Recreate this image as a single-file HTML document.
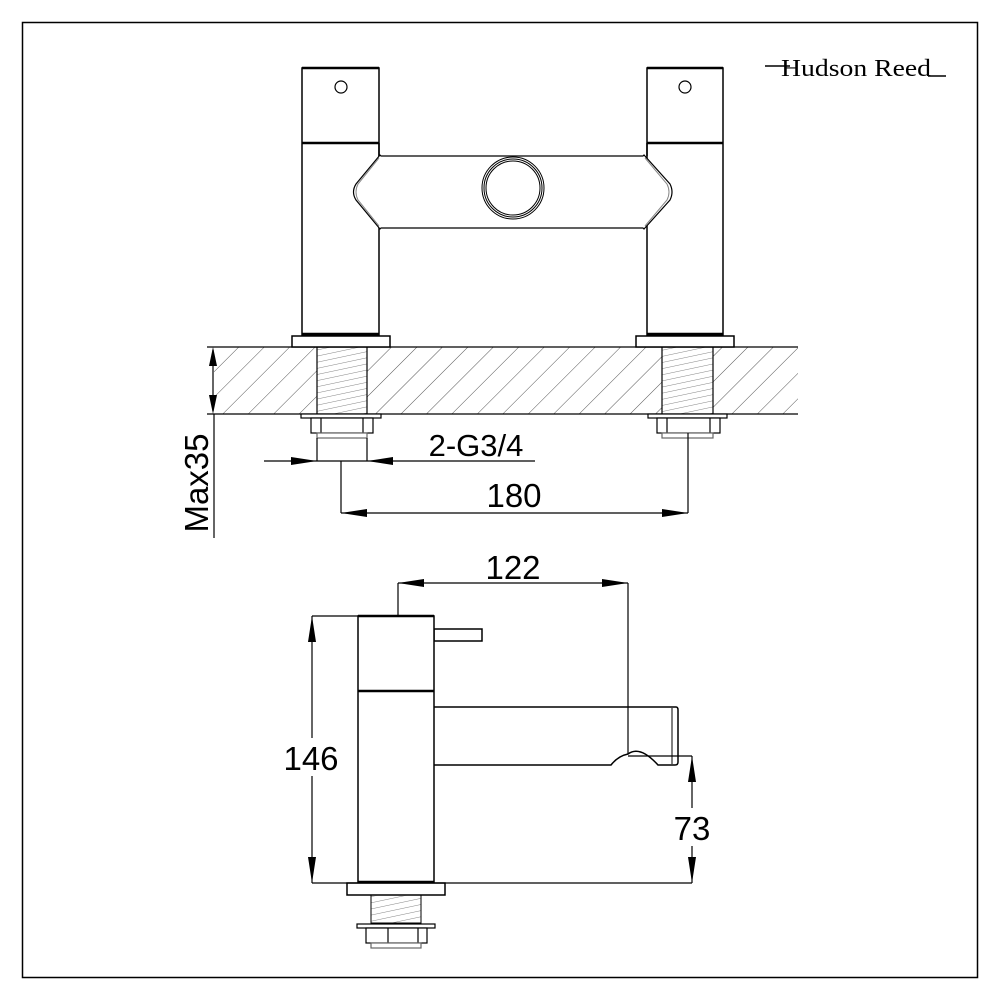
<!DOCTYPE html>
<html><head><meta charset="utf-8"><style>
html,body{margin:0;padding:0;background:#fff;}
svg{display:block;}
text{font-family:"Liberation Sans",Arial,sans-serif;fill:#000;}
</style></head><body>
<svg width="1000" height="1000" viewBox="0 0 1000 1000" xmlns="http://www.w3.org/2000/svg">
<defs>
<pattern id="hatch" patternUnits="userSpaceOnUse" width="18" height="18" patternTransform="rotate(45)">
<line x1="0" y1="0" x2="0" y2="18" stroke="#555" stroke-width="1"/>
</pattern>
<pattern id="thr" patternUnits="userSpaceOnUse" width="8" height="6" patternTransform="rotate(-12)">
<line x1="0" y1="0" x2="8" y2="0" stroke="#666" stroke-width="0.8"/>
</pattern>
<clipPath id="deck"><rect x="214" y="347" width="584" height="67"/></clipPath>
</defs>
<rect x="0" y="0" width="1000" height="1000" fill="#fff"/>
<rect x="22.5" y="22.5" width="955" height="955" fill="none" stroke="#000" stroke-width="1.5"/>

<!-- logo -->
<text x="781" y="76" font-size="24" style="font-family:'Liberation Serif',serif" textLength="150" lengthAdjust="spacingAndGlyphs">Hudson Reed</text>
<line x1="765" y1="66" x2="790" y2="66" stroke="#000" stroke-width="1.4"/>
<line x1="928" y1="76" x2="946" y2="76" stroke="#000" stroke-width="1.4"/>

<!-- deck hatching -->
<g clip-path="url(#deck)"><rect x="214" y="347" width="584" height="67" fill="url(#hatch)"/></g>
<rect x="317" y="347" width="50" height="67" fill="#fff"/>
<rect x="662" y="347" width="51" height="67" fill="#fff"/>
<rect x="317" y="347" width="50" height="67" fill="url(#thr)"/>
<rect x="662" y="347" width="51" height="67" fill="url(#thr)"/>
<g stroke="#000" stroke-width="1.2" fill="none">
<line x1="207" y1="347" x2="798" y2="347"/>
<line x1="207" y1="414" x2="798" y2="414"/>
<line x1="317" y1="347" x2="317" y2="414"/>
<line x1="367" y1="347" x2="367" y2="414"/>
<line x1="662" y1="347" x2="662" y2="414"/>
<line x1="713" y1="347" x2="713" y2="414"/>
</g>

<!-- front view taps -->
<g stroke="#000" stroke-width="1.5" fill="#fff">
<rect x="302" y="68" width="77" height="267"/>
<rect x="647" y="68" width="76" height="267"/>
<rect x="292" y="336" width="98" height="11"/>
<rect x="636" y="336" width="98" height="11"/>
</g>
<g stroke="#000" stroke-width="2.5">
<line x1="302" y1="68" x2="379" y2="68"/><line x1="647" y1="68" x2="723" y2="68"/>
<line x1="302" y1="143" x2="379" y2="143"/><line x1="647" y1="143" x2="723" y2="143"/>
<line x1="302" y1="334" x2="379" y2="334"/><line x1="647" y1="334" x2="723" y2="334"/>
</g>
<circle cx="341" cy="87" r="6" fill="none" stroke="#000" stroke-width="1.2"/>
<circle cx="685" cy="87" r="6" fill="none" stroke="#000" stroke-width="1.2"/>
<!-- bridge -->
<path d="M381 156 L643 156 L644 155 L670 184 Q674 192 670 200 L644 229 L643 228 L381 228 L380 229 L356 200 Q351 192 356 184 L380 155 Z" fill="#fff" stroke="#000" stroke-width="1.2"/>
<path d="M379 158 L358 184 Q354 192 358 200 L379 226" fill="none" stroke="#888" stroke-width="1"/>
<path d="M645 158 L667 184 Q671 192 667 200 L645 226" fill="none" stroke="#888" stroke-width="1"/>
<line x1="379" y1="143" x2="379" y2="156" stroke="#000" stroke-width="1.5"/>
<line x1="647" y1="143" x2="647" y2="156" stroke="#000" stroke-width="1.5"/>
<circle cx="513" cy="188" r="31" fill="none" stroke="#000" stroke-width="1"/>
<circle cx="513" cy="188" r="29" fill="none" stroke="#000" stroke-width="1"/>
<circle cx="513" cy="188" r="27" fill="none" stroke="#000" stroke-width="1"/>

<!-- nuts under deck -->
<g stroke="#000" stroke-width="1.2" fill="#fff">
<rect x="301" y="414" width="80" height="4"/>
<rect x="311" y="418" width="62" height="15"/>
<line x1="321" y1="418" x2="321" y2="433"/><line x1="363" y1="418" x2="363" y2="433"/>
<rect x="317" y="433" width="50" height="5" stroke="#666"/>
<rect x="648" y="414" width="79" height="4"/>
<rect x="657" y="418" width="63" height="15"/>
<line x1="667" y1="418" x2="667" y2="433"/><line x1="710" y1="418" x2="710" y2="433"/>
<rect x="662" y="433" width="51" height="5" stroke="#666"/>
</g>

<!-- dims top -->
<g stroke="#000" stroke-width="1.2" fill="none">
<line x1="213" y1="350" x2="213" y2="411"/>
<line x1="214" y1="414" x2="214" y2="538"/>
<line x1="264" y1="461" x2="535" y2="461"/>
<line x1="317" y1="438" x2="317" y2="461"/>
<line x1="367" y1="438" x2="367" y2="461"/>
<line x1="341" y1="461" x2="341" y2="513"/>
<line x1="688" y1="433" x2="688" y2="513"/>
<line x1="341" y1="513" x2="688" y2="513"/>
</g>
<g fill="#000">
<polygon points="213,347 209,366 217,366"/>
<polygon points="213,414 209,395 217,395"/>
<polygon points="317,461 291,457 291,465"/>
<polygon points="367,461 393,457 393,465"/>
<polygon points="341,513 367,509 367,517"/>
<polygon points="688,513 662,509 662,517"/>
</g>
<text x="476" y="456" font-size="31" text-anchor="middle">2-G3/4</text>
<text x="514" y="507" font-size="33" text-anchor="middle">180</text>
<text transform="translate(208,483) rotate(-90)" font-size="33" text-anchor="middle">Max35</text>

<!-- side view -->
<g stroke="#000" stroke-width="1.5" fill="#fff">
<path d="M434 707 L676 707 Q678 707 678 710 L678 762 Q678 765 675 765 L658 765 Q640 745 628 754 Q618 756 611 765 L434 765"/>
<rect x="434" y="629" width="48" height="12"/>
<rect x="358" y="616" width="76" height="267"/>
<rect x="347" y="883" width="98" height="12"/>
</g>
<line x1="672" y1="708" x2="672" y2="764" stroke="#000" stroke-width="1"/>
<g stroke="#000" stroke-width="2.5">
<line x1="358" y1="616" x2="434" y2="616"/>
<line x1="358" y1="691" x2="434" y2="691"/>
<line x1="358" y1="882" x2="434" y2="882"/>
</g>
<rect x="371" y="895" width="50" height="28" fill="url(#thr)" stroke="#000" stroke-width="1"/>
<g stroke="#000" stroke-width="1.2" fill="#fff">
<rect x="357" y="924" width="78" height="4"/>
<rect x="366" y="928" width="61" height="15"/>
<line x1="388" y1="928" x2="388" y2="943"/><line x1="418" y1="928" x2="418" y2="943"/>
<rect x="371" y="943" width="50" height="5" stroke="#666"/>
</g>

<!-- side dims -->
<g stroke="#000" stroke-width="1.2" fill="none">
<line x1="398" y1="583" x2="628" y2="583"/>
<line x1="398" y1="583" x2="398" y2="616"/>
<line x1="628" y1="583" x2="628" y2="754"/>
<line x1="312" y1="616" x2="358" y2="616"/>
<line x1="312" y1="616" x2="312" y2="883"/>
<line x1="312" y1="883" x2="692" y2="883"/>
<line x1="628" y1="756" x2="692" y2="756"/>
<line x1="692" y1="756" x2="692" y2="883"/>
</g>
<g fill="#000">
<polygon points="398,583 424,579 424,587"/>
<polygon points="628,583 602,579 602,587"/>
<polygon points="312,616 308,642 316,642"/>
<polygon points="312,883 308,857 316,857"/>
<polygon points="692,756 688,782 696,782"/>
<polygon points="692,883 688,857 696,857"/>
</g>
<text x="513" y="579" font-size="33" text-anchor="middle">122</text>
<rect x="286" y="738" width="52" height="38" fill="#fff"/>
<text x="311" y="770" font-size="33" text-anchor="middle">146</text>
<rect x="672" y="808" width="40" height="38" fill="#fff"/>
<text x="692" y="840" font-size="33" text-anchor="middle">73</text>
</svg>
</body></html>
